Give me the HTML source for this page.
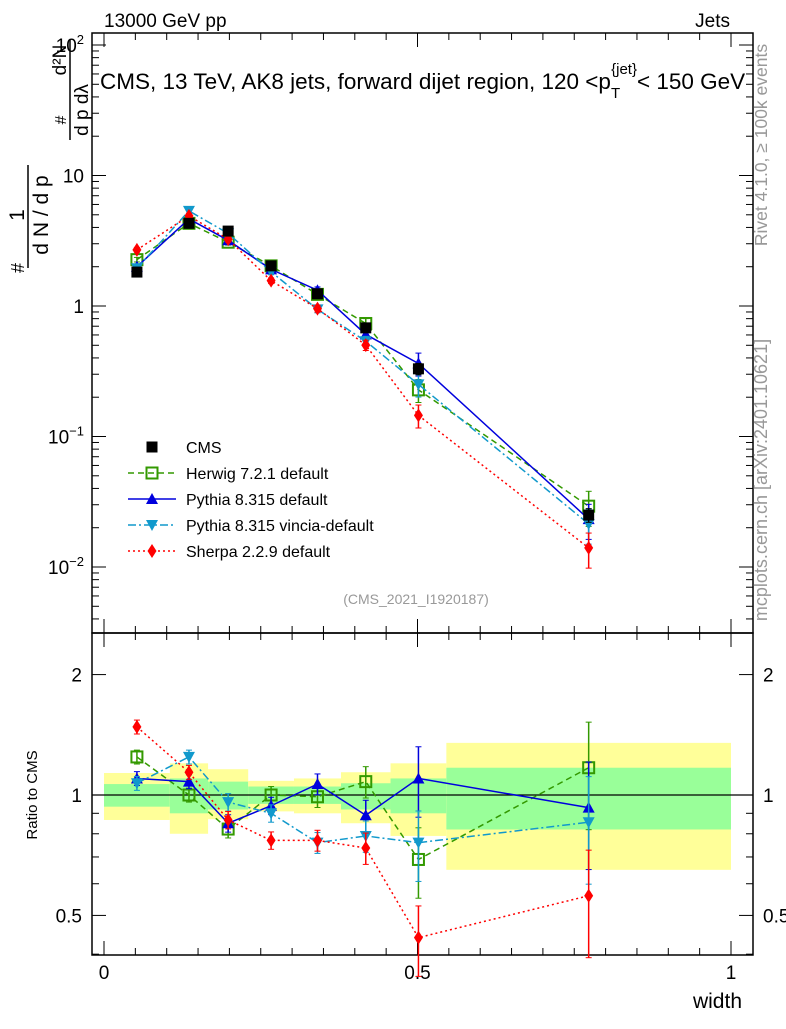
<!DOCTYPE html>
<html><head><meta charset="utf-8"><style>
body{margin:0;background:#fff}
svg{font-family:"Liberation Sans",sans-serif}
</style></head><body>
<svg id="c" width="786" height="1024" xmlns="http://www.w3.org/2000/svg"></svg>
<script>
const edges=[0,0.105,0.166,0.230,0.303,0.378,0.457,0.546,1.0];
const cms=[1.82,4.3,3.75,2.03,1.24,0.68,0.33,0.025];
const cmsErr=[0.06,0.08,0.08,0.07,0.07,0.08,0.1,0.12];
const statLo=[0.935,0.9,0.92,0.95,0.95,0.92,0.9,0.82];
const statHi=[1.065,1.1,1.08,1.05,1.05,1.07,1.1,1.17];
const totLo=[0.866,0.8,0.87,0.91,0.9,0.85,0.79,0.65];
const totHi=[1.135,1.2,1.16,1.085,1.1,1.14,1.2,1.35];
const herwigR=[1.245,1.0,0.822,1.0,0.99,1.08,0.69,1.17];
const pythiaR=[1.10,1.08,0.85,0.94,1.065,0.89,1.10,0.93];
const vinciaR=[1.07,1.245,0.96,0.90,0.76,0.79,0.76,0.855];
const sherpaR=[1.48,1.14,0.866,0.77,0.77,0.737,0.44,0.56];
const modelErr=[0.04,0.04,0.05,0.05,0.06,0.09,0.2,0.3];
const yTicksMain=[0.01,0.1,1,10,100];
const yTickLabelsMain=["10^-2","10^-1","1","10","10^2"];
const rTicks=[0.5,1,2];
const rTickLabels=["0.5","1","2"];
const xTicks=[0,0.5,1];
const xTickLabels=["0","0.5","1"];

const svg=document.getElementById('c');
const NS='http://www.w3.org/2000/svg';
function mk(t,a,p){const e=document.createElementNS(NS,t);for(const k in a)e.setAttribute(k,a[k]);(p||svg).appendChild(e);return e;}
const X0=92,X1=753,MT=33,MB=633,RB=955;
const xs=v=>104+627*v;
const ys=v=>306-130.5*Math.log10(v);
const yr=v=>795-400*Math.log10(v);
const mids=edges.slice(0,-1).map((e,i)=>(e+edges[i+1])/2);

for(let i=0;i<8;i++){
  const b=mk('rect',{x:xs(edges[i]),y:yr(totHi[i]),width:xs(edges[i+1])-xs(edges[i]),height:yr(totLo[i])-yr(totHi[i]),fill:'#ffff99'});
  
  
  const g=mk('rect',{x:xs(edges[i]),y:yr(statHi[i]),width:xs(edges[i+1])-xs(edges[i]),height:yr(statLo[i])-yr(statHi[i]),fill:'#99ff99'});
  
  
}
mk('line',{x1:X0,x2:X1,y1:yr(1),y2:yr(1),stroke:'#000','stroke-width':1.2});

const f1=mk('rect',{x:X0,y:MT,width:X1-X0,height:MB-MT,fill:'none',stroke:'#000','stroke-width':1.5});

const f2=mk('rect',{x:X0,y:MB,width:X1-X0,height:RB-MB,fill:'none',stroke:'#000','stroke-width':1.5});


for(let d=-3;d<=2;d++){for(let m=1;m<10;m++){const v=m*Math.pow(10,d);const y=ys(v);if(y<MT||y>MB)continue;const L=m==1?14:7;
 mk('line',{x1:X0,x2:X0+L,y1:y,y2:y,stroke:'#000'});mk('line',{x1:X1,x2:X1-L,y1:y,y2:y,stroke:'#000'});}}
yTicksMain.forEach((v,i)=>{const s=yTickLabelsMain[i];const t=mk('text',{x:84,y:ys(v)+7,'text-anchor':'end','font-size':19});
 if(s.includes('^')){const [b,e]=s.split('^');t.textContent=b;const ts=mk('tspan',{dy:-8,'font-size':13},t);ts.textContent=e.replace('-','−');}else t.textContent=s;
 });
for(const v of [0.4,0.5,0.6,0.7,0.8,0.9,1,2]){const y=yr(v);if(y<MB||y>RB)continue;const L=(v==0.5||v==1||v==2)?14:7;
 mk('line',{x1:X0,x2:X0+L,y1:y,y2:y,stroke:'#000'});mk('line',{x1:X1,x2:X1-L,y1:y,y2:y,stroke:'#000'});}
rTicks.forEach((v,i)=>{[[82,'end'],[763,'start']].forEach(([x,a])=>{const t=mk('text',{x:x,y:yr(v)+7,'text-anchor':a,'font-size':19});t.textContent=rTickLabels[i];
 });});
for(let k=0;k<=20;k++){const v=k*0.05;const L=k%10==0?14:7;const x=xs(v);
 mk('line',{x1:x,x2:x,y1:MB,y2:MB-L,stroke:'#000'});mk('line',{x1:x,x2:x,y1:MB,y2:MB+L,stroke:'#000'});mk('line',{x1:x,x2:x,y1:RB,y2:RB-L,stroke:'#000'});mk('line',{x1:x,x2:x,y1:MT,y2:MT+L,stroke:'#000'});}
xTicks.forEach((v,i)=>{const t=mk('text',{x:xs(v),y:979,'text-anchor':'middle','font-size':19});t.textContent=xTickLabels[i];
 });

const series=[
 {n:'herwig',r:herwigR,c:'#339900',d:'6,4',m:'sq',lab:'Herwig 7.2.1 default'},
 {n:'pythia',r:pythiaR,c:'#0000dd',d:'',m:'tri',lab:'Pythia 8.315 default'},
 {n:'vincia',r:vinciaR,c:'#1199cc',d:'8,3,2,3',m:'itri',lab:'Pythia 8.315 vincia-default'},
 {n:'sherpa',r:sherpaR,c:'#ff0000',d:'2,3',m:'dia',lab:'Sherpa 2.2.9 default'}];
function marker(m,x,y,c,name){let e;
 if(m=='sq')e=mk('rect',{x:x-5.5,y:y-5.5,width:11,height:11,fill:'none',stroke:c,'stroke-width':2});
 else if(m=='blk')e=mk('rect',{x:x-5.5,y:y-5.5,width:11,height:11,fill:'#000'});
 else if(m=='tri')e=mk('polygon',{points:`${x},${y-6} ${x-6},${y+5} ${x+6},${y+5}`,fill:c});
 else if(m=='itri')e=mk('polygon',{points:`${x},${y+6} ${x-6},${y-5} ${x+6},${y-5}`,fill:c});
 else e=mk('polygon',{points:`${x},${y-7} ${x-4.5},${y} ${x},${y+7} ${x+4.5},${y}`,fill:c});
 }
function errbar(x,y1,y2,c){mk('line',{x1:x,x2:x,y1:y1,y2:y2,stroke:c,'stroke-width':1.5});mk('line',{x1:x-3,x2:x+3,y1:y1,y2:y1,stroke:c});mk('line',{x1:x-3,x2:x+3,y1:y2,y2:y2,stroke:c});}
series.forEach(s=>{
 const vals=cms.map((v,i)=>v*s.r[i]);
 const p1=mk('polyline',{points:mids.map((m,i)=>xs(m)+','+ys(vals[i])).join(' '),fill:'none',stroke:s.c,'stroke-width':1.5,'stroke-dasharray':s.d});
 
 const p2=mk('polyline',{points:mids.map((m,i)=>xs(m)+','+yr(s.r[i])).join(' '),fill:'none',stroke:s.c,'stroke-width':1.5,'stroke-dasharray':s.d});
 
 mids.forEach((m,i)=>{const x=xs(m);const e=modelErr[i];
  errbar(x,ys(vals[i]*(1+e)),ys(vals[i]*(1-e)),s.c);marker(s.m,x,ys(vals[i]),s.c,s.n+'-point');
  errbar(x,yr(s.r[i]*(1+e)),yr(Math.max(s.r[i]*(1-e),0.35)),s.c);marker(s.m,x,yr(s.r[i]),s.c,s.n+'-ratio-point');});
});
mids.forEach((m,i)=>{const x=xs(m);errbar(x,ys(cms[i]*(1+cmsErr[i])),ys(cms[i]*(1-cmsErr[i])),'#000');marker('blk',x,ys(cms[i]),'#000','cms-point');});

const lg=[{m:'blk',c:'#000',d:null,lab:'CMS'}].concat(series);
lg.forEach((s,i)=>{const y=447+26*i;
 if(s.d!==null)mk('line',{x1:128,x2:176,y1:y,y2:y,stroke:s.c,'stroke-width':1.5,'stroke-dasharray':s.d});
 marker(s.m,152,y,s.c,'legend-marker');
 const t=mk('text',{x:186,y:y+6,'font-size':16});t.textContent=s.lab;});

function txt(s,a,name){const t=mk('text',a);t.textContent=s;return t;}
txt('13000 GeV pp',{x:104,y:27,'font-size':19},'beam-label');
txt('Jets',{x:730,y:27,'font-size':19,'text-anchor':'end'},'process-label');
const tt=txt('CMS, 13 TeV, AK8 jets, forward dijet region, 120 <p',{x:100,y:89,'font-size':22.5},'plot-title');
const s1=mk('tspan',{dy:9,'font-size':15},tt);s1.textContent='T';
const s2=mk('tspan',{dy:-24,dx:-9,'font-size':15},tt);s2.textContent='{jet}';
const s3=mk('tspan',{dy:15,'font-size':22.5},tt);s3.textContent='< 150 GeV';
txt('(CMS_2021_I1920187)',{x:416,y:604,'font-size':14,fill:'#999','text-anchor':'middle'},'analysis-id');
txt('Rivet 4.1.0, ≥ 100k events',{x:0,y:0,'font-size':17.5,fill:'#999','text-anchor':'middle',transform:'translate(767,145) rotate(-90)'},'rivet-label');
txt('mcplots.cern.ch [arXiv:2401.10621]',{x:0,y:0,'font-size':18,fill:'#999','text-anchor':'middle',transform:'translate(767,480) rotate(-90)'},'mcplots-label');
txt('Ratio to CMS',{x:0,y:0,'font-size':15,'text-anchor':'middle',transform:'translate(37,795) rotate(-90)'},'ratio-y-title');
txt('width',{x:742,y:1008,'font-size':21,'text-anchor':'end'},'x-axis-title');
const yg=mk('g',{transform:'translate(0,0)'});

mk('line',{x1:28,x2:28,y1:165,y2:268,stroke:'#000','stroke-width':1.5},yg);
const a1=mk('text',{x:0,y:0,'font-size':21,'text-anchor':'middle',transform:'translate(24,215) rotate(-90)'},yg);a1.textContent='1';
const a2=mk('text',{x:0,y:0,'font-size':21,'text-anchor':'middle',transform:'translate(48,215) rotate(-90)'},yg);a2.textContent='d N / d p';
const a3=mk('text',{x:0,y:0,'font-size':18,'text-anchor':'middle',transform:'translate(24,268) rotate(-90)'},yg);a3.textContent='#';
mk('line',{x1:70,x2:70,y1:40,y2:140,stroke:'#000','stroke-width':1.5},yg);
const a4=mk('text',{x:0,y:0,'font-size':19,'text-anchor':'middle',transform:'translate(66,60) rotate(-90)'},yg);a4.textContent='d²N';
const a5=mk('text',{x:0,y:0,'font-size':19,'text-anchor':'middle',transform:'translate(88,110) rotate(-90)'},yg);a5.textContent='d p  dλ';
const a6=mk('text',{x:0,y:0,'font-size':16,'text-anchor':'middle',transform:'translate(66,120) rotate(-90)'},yg);a6.textContent='#';
</script>
</body></html>
